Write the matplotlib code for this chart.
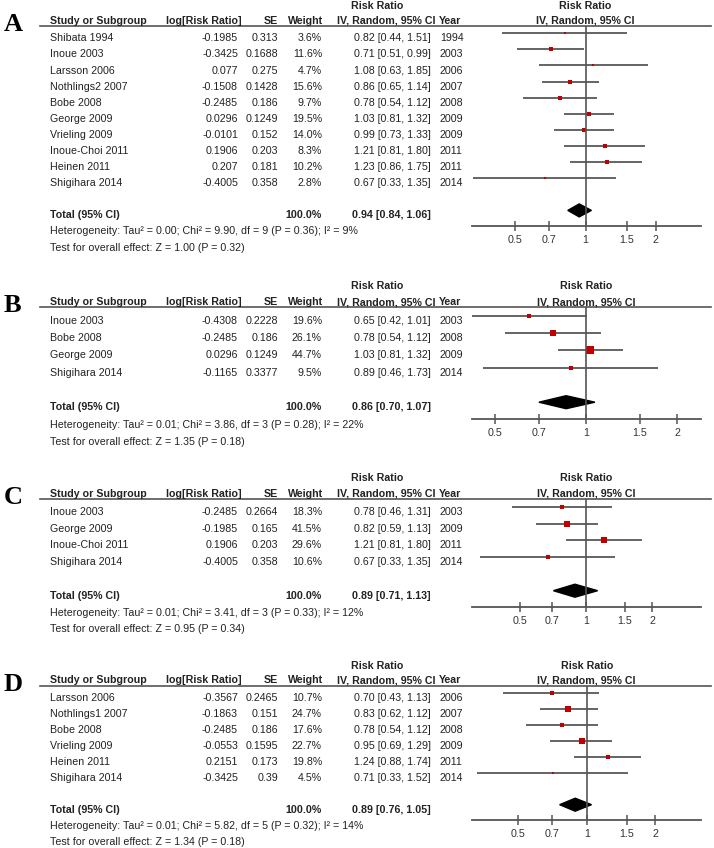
import matplotlib
matplotlib.use('Agg')
import matplotlib.pyplot as plt
import matplotlib.transforms as mtransforms
from matplotlib.patches import Polygon
import numpy as np

plt.rcParams['font.family'] = ['Liberation Sans', 'DejaVu Sans']

# ---- panel A ----
A_study = ['Shibata 1994', 'Inoue 2003', 'Larsson 2006', 'Nothlings2 2007', 'Bobe 2008',
           'George 2009', 'Vrieling 2009', 'Inoue-Choi 2011', 'Heinen 2011', 'Shigihara 2014']
A_logrr = [-0.1985, -0.3425, 0.077, -0.1508, -0.2485, 0.0296, -0.0101, 0.1906, 0.207, -0.4005]
A_se = [0.313, 0.1688, 0.275, 0.1428, 0.186, 0.1249, 0.152, 0.203, 0.181, 0.358]
A_weight = [3.6, 11.6, 4.7, 15.6, 9.7, 19.5, 14.0, 8.3, 10.2, 2.8]
A_rr = [0.82, 0.71, 1.08, 0.86, 0.78, 1.03, 0.99, 1.21, 1.23, 0.67]
A_lo = [0.44, 0.51, 0.63, 0.65, 0.54, 0.81, 0.73, 0.81, 0.86, 0.33]
A_hi = [1.51, 0.99, 1.85, 1.14, 1.12, 1.32, 1.33, 1.80, 1.75, 1.35]
A_year = [1994, 2003, 2006, 2007, 2008, 2009, 2009, 2011, 2011, 2014]
A_total = [0.94, 0.84, 1.06]
A_het = 'Heterogeneity: Tau² = 0.00; Chi² = 9.90, df = 9 (P = 0.36); I² = 9%'
A_test = 'Test for overall effect: Z = 1.00 (P = 0.32)'

# ---- panel B ----
B_study = ['Inoue 2003', 'Bobe 2008', 'George 2009', 'Shigihara 2014']
B_logrr = [-0.4308, -0.2485, 0.0296, -0.1165]
B_se = [0.2228, 0.186, 0.1249, 0.3377]
B_weight = [19.6, 26.1, 44.7, 9.5]
B_rr = [0.65, 0.78, 1.03, 0.89]
B_lo = [0.42, 0.54, 0.81, 0.46]
B_hi = [1.01, 1.12, 1.32, 1.73]
B_year = [2003, 2008, 2009, 2014]
B_total = [0.86, 0.70, 1.07]
B_het = 'Heterogeneity: Tau² = 0.01; Chi² = 3.86, df = 3 (P = 0.28); I² = 22%'
B_test = 'Test for overall effect: Z = 1.35 (P = 0.18)'

# ---- panel C ----
C_study = ['Inoue 2003', 'George 2009', 'Inoue-Choi 2011', 'Shigihara 2014']
C_logrr = [-0.2485, -0.1985, 0.1906, -0.4005]
C_se = [0.2664, 0.165, 0.203, 0.358]
C_weight = [18.3, 41.5, 29.6, 10.6]
C_rr = [0.78, 0.82, 1.21, 0.67]
C_lo = [0.46, 0.59, 0.81, 0.33]
C_hi = [1.31, 1.13, 1.80, 1.35]
C_year = [2003, 2009, 2011, 2014]
C_total = [0.89, 0.71, 1.13]
C_het = 'Heterogeneity: Tau² = 0.01; Chi² = 3.41, df = 3 (P = 0.33); I² = 12%'
C_test = 'Test for overall effect: Z = 0.95 (P = 0.34)'

# ---- panel D ----
D_study = ['Larsson 2006', 'Nothlings1 2007', 'Bobe 2008', 'Vrieling 2009', 'Heinen 2011', 'Shigihara 2014']
D_logrr = [-0.3567, -0.1863, -0.2485, -0.0553, 0.2151, -0.3425]
D_se = [0.2465, 0.151, 0.186, 0.1595, 0.173, 0.39]
D_weight = [10.7, 24.7, 17.6, 22.7, 19.8, 4.5]
D_rr = [0.70, 0.83, 0.78, 0.95, 1.24, 0.71]
D_lo = [0.43, 0.62, 0.54, 0.69, 0.88, 0.33]
D_hi = [1.13, 1.12, 1.12, 1.29, 1.74, 1.52]
D_year = [2006, 2007, 2008, 2009, 2011, 2014]
D_total = [0.89, 0.76, 1.05]
D_het = 'Heterogeneity: Tau² = 0.01; Chi² = 5.82, df = 5 (P = 0.32); I² = 14%'
D_test = 'Test for overall effect: Z = 1.34 (P = 0.18)'

total_weight = '100.0%'
tick_vals = [0.5, 0.7, 1, 1.5, 2]
tick_labels = ['0.5', '0.7', '1', '1.5', '2']

W, H = 714, 848
TXT = '#222222'
GREY = '#555555'
RED = '#c00000'
FS = 7.7

fig = plt.figure(figsize=(W / 100, H / 100), dpi=100)


def px_axes(left, top, right, bottom):
    return fig.add_axes([left / W, 1 - bottom / H, (right - left) / W, (bottom - top) / H])


def draw_panel(letter, study, logrr, se, weight, rr, lo, hi, year, total, het, test,
               y0, dy, ppu, x1):
    n = len(study)
    off = 5.0  # text sits a little lower than the plotted lines
    # table axes: x in pixels, y in rows
    top, bot = -2.8, n + 3.6
    ax_t = px_axes(0, y0 + top * dy + off, W, y0 + bot * dy + off)
    ax_t.set_xlim(0, W)
    ax_t.set_ylim(bot, top)
    ax_t.axis('off')

    # forest axes
    fx0, fx1 = 471.5, 701.0
    ftop = -1 + 9.0 / dy
    fbot = n + 1.95
    ax_f = px_axes(fx0, y0 + ftop * dy, fx1, y0 + fbot * dy)
    ax_f.set_xscale('log')
    ax_f.set_xlim(np.exp((fx0 - x1) / ppu), np.exp((fx1 - x1) / ppu))
    ax_f.set_ylim(fbot, ftop)
    ax_f.patch.set_visible(False)

    kw = dict(fontsize=FS, color=TXT, va='center')
    bold = dict(kw, fontweight='bold')

    ax_t.text(4, -0.85, letter, fontsize=19, fontweight='bold', family='Liberation Serif',
              va='center', ha='left', color='black')

    # headers
    hy = -1.08
    ax_t.text(377, -2, 'Risk Ratio', ha='center', **bold)
    ax_t.text(50, hy, 'Study or Subgroup', ha='left', **bold)
    ax_t.text(242, hy, 'log[Risk Ratio]', ha='right', **bold)
    ax_t.text(278, hy, 'SE', ha='right', **bold)
    ax_t.text(323, hy, 'Weight', ha='right', **bold)
    ax_t.text(386, hy, 'IV, Random, 95% CI', ha='center', **bold)
    ax_t.text(439, hy, 'Year', ha='left', **bold)
    trans = mtransforms.blended_transform_factory(ax_f.transData, ax_t.transData)
    ax_t.text(1, -2, 'Risk Ratio', ha='center', transform=trans, **bold)
    ax_t.text(1, hy, 'IV, Random, 95% CI', ha='center', transform=trans, **bold)
    ax_t.axhline(-1 + 4.0 / dy, xmin=40 / W, xmax=711 / W, color=GREY, lw=1.2)

    # study rows
    for i in range(n):
        ax_t.text(50, i, study[i], ha='left', **kw)
        ax_t.text(238, i, str(logrr[i]), ha='right', **kw)
        ax_t.text(278, i, str(se[i]), ha='right', **kw)
        ax_t.text(322, i, f'{weight[i]:.1f}%', ha='right', **kw)
        ax_t.text(431, i, f'{rr[i]:.2f} [{lo[i]:.2f}, {hi[i]:.2f}]', ha='right', **kw)
        ax_t.text(440, i, str(year[i]), ha='left', **kw)

    # total rows
    ax_t.text(50, n + 1, 'Total (95% CI)', ha='left', **bold)
    ax_t.text(322, n + 1, total_weight, ha='right', **bold)
    ax_t.text(431, n + 1, f'{total[0]:.2f} [{total[1]:.2f}, {total[2]:.2f}]', ha='right', **bold)
    ax_t.text(50, n + 2, het, ha='left', **kw)
    ax_t.text(50, n + 3, test, ha='left', **kw)

    # forest marks
    rows = np.arange(n)
    ax_f.hlines(rows, lo, hi, color='#4a4a4a', lw=1.2)
    for i in range(n):
        side = max(1.05 * np.sqrt(weight[i]), 2.0)
        ax_f.plot(rr[i], i, marker='s', ms=side * 0.72, color=RED, mew=0, ls='none')
    h = 6.5 / dy
    est, dlo, dhi = total
    ax_f.add_patch(Polygon([(dlo, n + 1), (est, n + 1 - h), (dhi, n + 1), (est, n + 1 + h)],
                           closed=True, color='black'))
    ax_f.axvline(1, color=GREY, lw=1.2)

    for s in ['top', 'right', 'left']:
        ax_f.spines[s].set_visible(False)
    ax_f.spines['bottom'].set_color(GREY)
    ax_f.spines['bottom'].set_linewidth(1.3)
    ax_f.set_yticks([])
    ax_f.set_xticks(tick_vals)
    ax_f.set_xticklabels(tick_labels)
    ax_f.xaxis.set_minor_locator(matplotlib.ticker.NullLocator())
    ax_f.tick_params(axis='x', direction='inout', length=7, width=1.1, color=GREY,
                     labelsize=FS, labelcolor='#333333', pad=3)


draw_panel('A', A_study, A_logrr, A_se, A_weight, A_rr, A_lo, A_hi, A_year, A_total, A_het, A_test,
           y0=33.3, dy=16.1, ppu=101.5, x1=585.5)
draw_panel('B', B_study, B_logrr, B_se, B_weight, B_rr, B_lo, B_hi, B_year, B_total, B_het, B_test,
           y0=315.7, dy=17.3, ppu=132.0, x1=586.0)
draw_panel('C', C_study, C_logrr, C_se, C_weight, C_rr, C_lo, C_hi, C_year, C_total, C_het, C_test,
           y0=506.7, dy=16.8, ppu=95.2, x1=586.0)
draw_panel('D', D_study, D_logrr, D_se, D_weight, D_rr, D_lo, D_hi, D_year, D_total, D_het, D_test,
           y0=692.7, dy=16.0, ppu=98.6, x1=586.7)

fig.savefig('out.png', dpi=100, facecolor='white')
